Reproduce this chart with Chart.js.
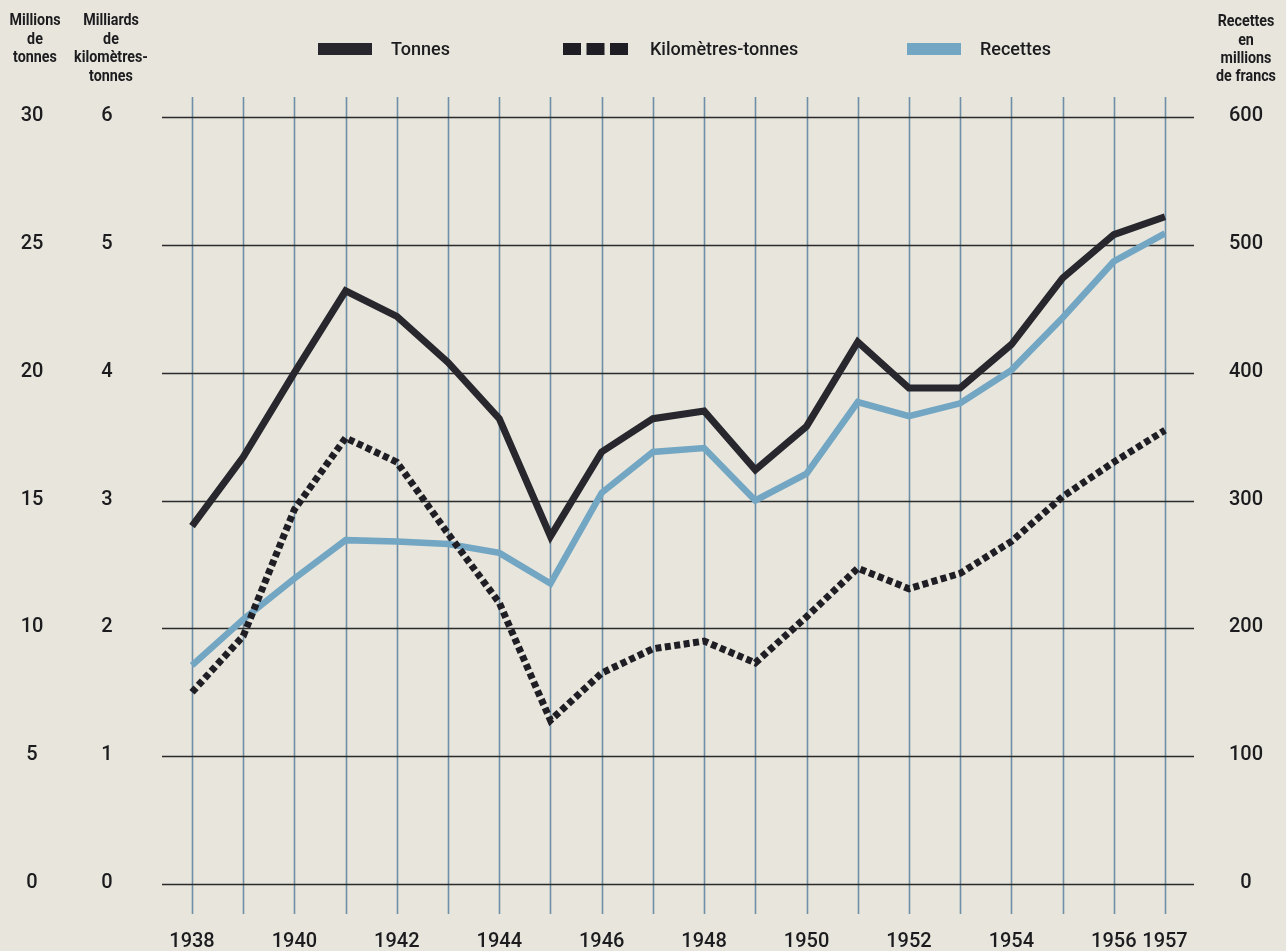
<!DOCTYPE html>
<html lang="fr">
<head>
<meta charset="utf-8">
<title>Tonnes, kilomètres-tonnes et recettes 1938-1957</title>
<script src="https://cdn.jsdelivr.net/npm/chart.js@4/dist/chart.umd.min.js"></script>
<style>
    html, body { margin: 0; padding: 0; background: #e7e5dc; }
    canvas { display: block; }
</style>
</head>
<body>
<canvas id="myChart" width="1286" height="951"></canvas>
<script>
const years = [
    "1938", "1939", "1940", "1941", "1942", "1943", "1944", "1945", "1946", "1947",
    "1948", "1949", "1950", "1951", "1952", "1953", "1954", "1955", "1956", "1957"
];
// millions de tonnes
const tonnes = [14.0, 16.7, 20.0, 23.2, 22.2, 20.4, 18.2, 13.6, 16.9, 18.2,
                18.5, 16.2, 17.9, 21.2, 19.4, 19.4, 21.1, 23.7, 25.4, 26.1];
// milliards de kilomètres-tonnes
const kmTonnes = [1.50, 1.94, 2.93, 3.49, 3.30, 2.74, 2.20, 1.28, 1.65, 1.84,
                  1.90, 1.73, 2.09, 2.47, 2.31, 2.43, 2.68, 3.03, 3.30, 3.55];
// recettes en millions de francs
const recettes = [171, 207, 239, 269, 268, 266, 259, 235, 306, 338,
                  341, 300, 321, 377, 366, 376, 402, 443, 487, 509];

const shownYears = ["1938", "1940", "1942", "1944", "1946", "1948", "1950", "1952", "1954", "1956", "1957"];

const leftTitle1 = ["Millions", "de", "tonnes"];
const leftTitle2 = ["Milliards", "de", "kilomètres-", "tonnes"];
const rightTitle = ["Recettes", "en", "millions", "de francs"];

const ink = "#1c1c1f";

// grille : lignes horizontales noires, verticales bleu-gris, qui debordent du cadre
const gridPlugin = {
    id: "grid",
    beforeDatasetsDraw(chart) {
        const ctx = chart.ctx;
        const area = chart.chartArea;
        const x = chart.scales.x;
        const y = chart.scales.y;
        ctx.save();
        ctx.lineWidth = 1.6;
        ctx.strokeStyle = "#6f8fa6";
        years.forEach((yr, i) => {
            const px = Math.round(x.getPixelForValue(i)) + 0.5;
            ctx.beginPath();
            ctx.moveTo(px, area.top - 20);
            ctx.lineTo(px, area.bottom + 30);
            ctx.stroke();
        });
        ctx.strokeStyle = "#2b2b2b";
        y.ticks.forEach(t => {
            const py = Math.round(y.getPixelForValue(t.value)) + 0.5;
            ctx.beginPath();
            ctx.moveTo(area.left - 30, py);
            ctx.lineTo(area.right + 29, py);
            ctx.stroke();
        });
        ctx.restore();
    }
};

// texte etroit : on comprime la police horizontalement
function narrowText(ctx, s, x, y) {
    ctx.save();
    ctx.translate(x, y);
    ctx.scale(0.84, 1);
    ctx.fillText(s, 0, 0);
    ctx.restore();
}

// graduations des trois axes verticaux, centrees sous leurs titres
const axisLabels = [
    {id: "y", x: 32},
    {id: "y1", x: 107},
    {id: "y2", x: 1246}
];

// titres des axes, graduations et legende
const headerPlugin = {
    id: "header",
    afterDraw(chart) {
        const ctx = chart.ctx;
        ctx.save();
        ctx.fillStyle = ink;
        ctx.textAlign = "center";
        ctx.textBaseline = "middle";

        ctx.font = "500 20px Roboto, sans-serif";
        axisLabels.forEach(a => {
            const sc = chart.scales[a.id];
            sc.ticks.forEach(t => {
                ctx.fillText(String(t.value), a.x, sc.getPixelForValue(t.value) - 1);
            });
        });

        ctx.font = "bold 17px Roboto, sans-serif";
        leftTitle1.forEach((s, i) => narrowText(ctx, s, 35, 21 + i * 18.5));
        leftTitle2.forEach((s, i) => narrowText(ctx, s, 111, 21 + i * 18.5));
        rightTitle.forEach((s, i) => narrowText(ctx, s, 1246, 22 + i * 18.3));

        const ds = chart.data.datasets;
        const items = [
            {x: 318, textX: 391},
            {x: 563, textX: 650},
            {x: 907, textX: 980}
        ];
        ctx.font = "500 18px Roboto, sans-serif";
        ctx.textAlign = "left";
        items.forEach((it, i) => {
            ctx.fillStyle = ds[i].borderColor;
            if (ds[i].borderDash) {
                for (let k = 0; k < 3; k++) {
                    ctx.fillRect(it.x + k * 23.5, 43, 18, 12);
                }
            } else {
                ctx.fillRect(it.x, 43, 54, 12);
            }
            ctx.fillStyle = ink;
            ctx.fillText(ds[i].label, it.textX, 50);
        });
        ctx.restore();
    }
};

const data = {
    labels: years,
    datasets: [
        {
            label: "Tonnes",
            data: tonnes,
            yAxisID: "y",
            borderColor: "#28272e",
            borderWidth: 7,
            borderJoinStyle: "miter",
            pointRadius: 0,
            tension: 0
        },
        {
            label: "Kilomètres-tonnes",
            data: kmTonnes,
            yAxisID: "y1",
            borderColor: "#1f1e24",
            borderWidth: 7,
            borderDash: [6, 3.5],
            borderJoinStyle: "miter",
            pointRadius: 0,
            tension: 0
        },
        {
            label: "Recettes",
            data: recettes,
            yAxisID: "y2",
            borderColor: "#72a6c3",
            borderWidth: 6.5,
            borderJoinStyle: "miter",
            pointRadius: 0,
            tension: 0
        }
    ]
};

const myChart = new Chart(document.getElementById("myChart"), {
    type: "line",
    data: data,
    plugins: [gridPlugin, headerPlugin],
    options: {
        responsive: false,
        animation: false,
        events: [],
        layout: {padding: {top: 117, left: 192, right: 121, bottom: 0}},
        plugins: {
            legend: {display: false},
            tooltip: {enabled: false}
        },
        scales: {
            x: {
                offset: false,
                grid: {display: false, drawTicks: false},
                border: {display: false},
                afterFit(scale) { scale.height = 67; },
                ticks: {
                    autoSkip: false,
                    maxRotation: 0,
                    padding: 46,
                    color: ink,
                    font: {family: "Roboto", size: 20, weight: "500"},
                    callback(v, i) {
                        return shownYears.includes(years[i]) ? years[i] : "";
                    }
                }
            },
            y: {display: false, position: "left", min: 0, max: 30, ticks: {stepSize: 5}},
            y1: {display: false, position: "left", min: 0, max: 6, ticks: {stepSize: 1}},
            y2: {display: false, position: "right", min: 0, max: 600, ticks: {stepSize: 100}}
        }
    }
});
</script>
</body>
</html>
